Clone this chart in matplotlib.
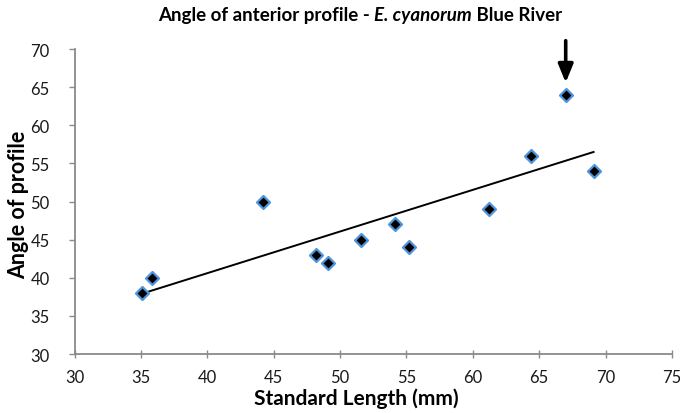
import numpy as np
import matplotlib
matplotlib.use("Agg")
import matplotlib.pyplot as plt

# Data
standard_length = [35.1, 35.8, 44.2, 48.2, 49.1, 51.6, 54.1, 55.2, 61.2, 64.4, 67.0, 69.1]
angle_profile = [38, 40, 50, 43, 42, 45, 47, 44, 49, 56, 64, 54]
xticks = [30, 35, 40, 45, 50, 55, 60, 65, 70, 75]
yticks = [30, 35, 40, 45, 50, 55, 60, 65, 70]
highlight = (67.0, 64)

plt.rcParams['font.family'] = ['Lato', 'DejaVu Sans']

fig = plt.figure(figsize=(6.8, 4.14), dpi=100)
ax = fig.add_axes([0.110, 0.1425, 0.878, 0.7365])

x = np.array(standard_length)
y = np.array(angle_profile)
slope, intercept = np.polyfit(x, y, 1)
xl = np.array([x.min(), x.max()])
ax.plot(xl, slope * xl + intercept, color='black', lw=1.4, zorder=2)

ax.scatter(x, y, marker='D', s=44, facecolor='black', edgecolor='#4f95dc', linewidth=1.6, zorder=3)

ax.annotate('', xy=(highlight[0], highlight[1] + 1.6), xytext=(highlight[0], highlight[1] + 7.1),
            arrowprops=dict(arrowstyle='-|>,head_width=0.45,head_length=1.1', color='black', lw=2.6,
                            shrinkA=0, shrinkB=0),
            annotation_clip=False)

ax.set_xlim(30, 75)
ax.set_ylim(30, 70)
ax.set_xticks(xticks)
ax.set_yticks(yticks)
ax.tick_params(axis='x', direction='inout', length=6, width=1, color='#8a8a8a', labelsize=12, pad=8, labelcolor='#1a1a1a')
ax.tick_params(axis='y', direction='out', length=4, width=1, color='#8a8a8a', labelsize=12, pad=14, labelcolor='#1a1a1a')
for s in ['top', 'right']:
    ax.spines[s].set_visible(False)
for s in ['left', 'bottom']:
    ax.spines[s].set_color('#8a8a8a')
    ax.spines[s].set_linewidth(1.3)

ax.set_xlabel('Standard Length (mm)', fontsize=15, fontweight='bold')
ax.set_ylabel('Angle of profile', fontsize=15.5, fontweight='bold')
W = fig.bbox.width
H = fig.bbox.height
axb = ax.get_position()
ax.xaxis.set_label_coords((356 / W - axb.x0) / axb.width, ((414 - 405) / H - axb.y0) / axb.height)
ax.xaxis.label.set_va('baseline')
ax.yaxis.set_label_coords((19 / W - axb.x0) / axb.width, ((414 - 205) / H - axb.y0) / axb.height)
ax.yaxis.label.set_va('center')

# Title with italic species name
ts = 13.5
t1 = fig.text(0.2, 0.955, 'Angle of anterior profile - ', fontsize=ts, fontweight='bold', ha='left', va='baseline')
t2 = fig.text(0, 0, 'E. cyanorum', fontsize=ts, fontweight='bold', style='italic', ha='left', va='baseline')
t3 = fig.text(0, 0, ' Blue River', fontsize=ts, fontweight='bold', ha='left', va='baseline')
fig.canvas.draw()
r = fig.canvas.get_renderer()
w1 = t1.get_window_extent(r).width
w2 = t2.get_window_extent(r).width
w3 = t3.get_window_extent(r).width
total = w1 + w2 + w3
cx = 360
x0 = cx - total / 2
yb = 0.95
t1.set_position((x0 / W, yb))
t2.set_position(((x0 + w1) / W, yb))
t3.set_position(((x0 + w1 + w2) / W, yb))

fig.savefig('out.png', dpi=100, facecolor='white')
